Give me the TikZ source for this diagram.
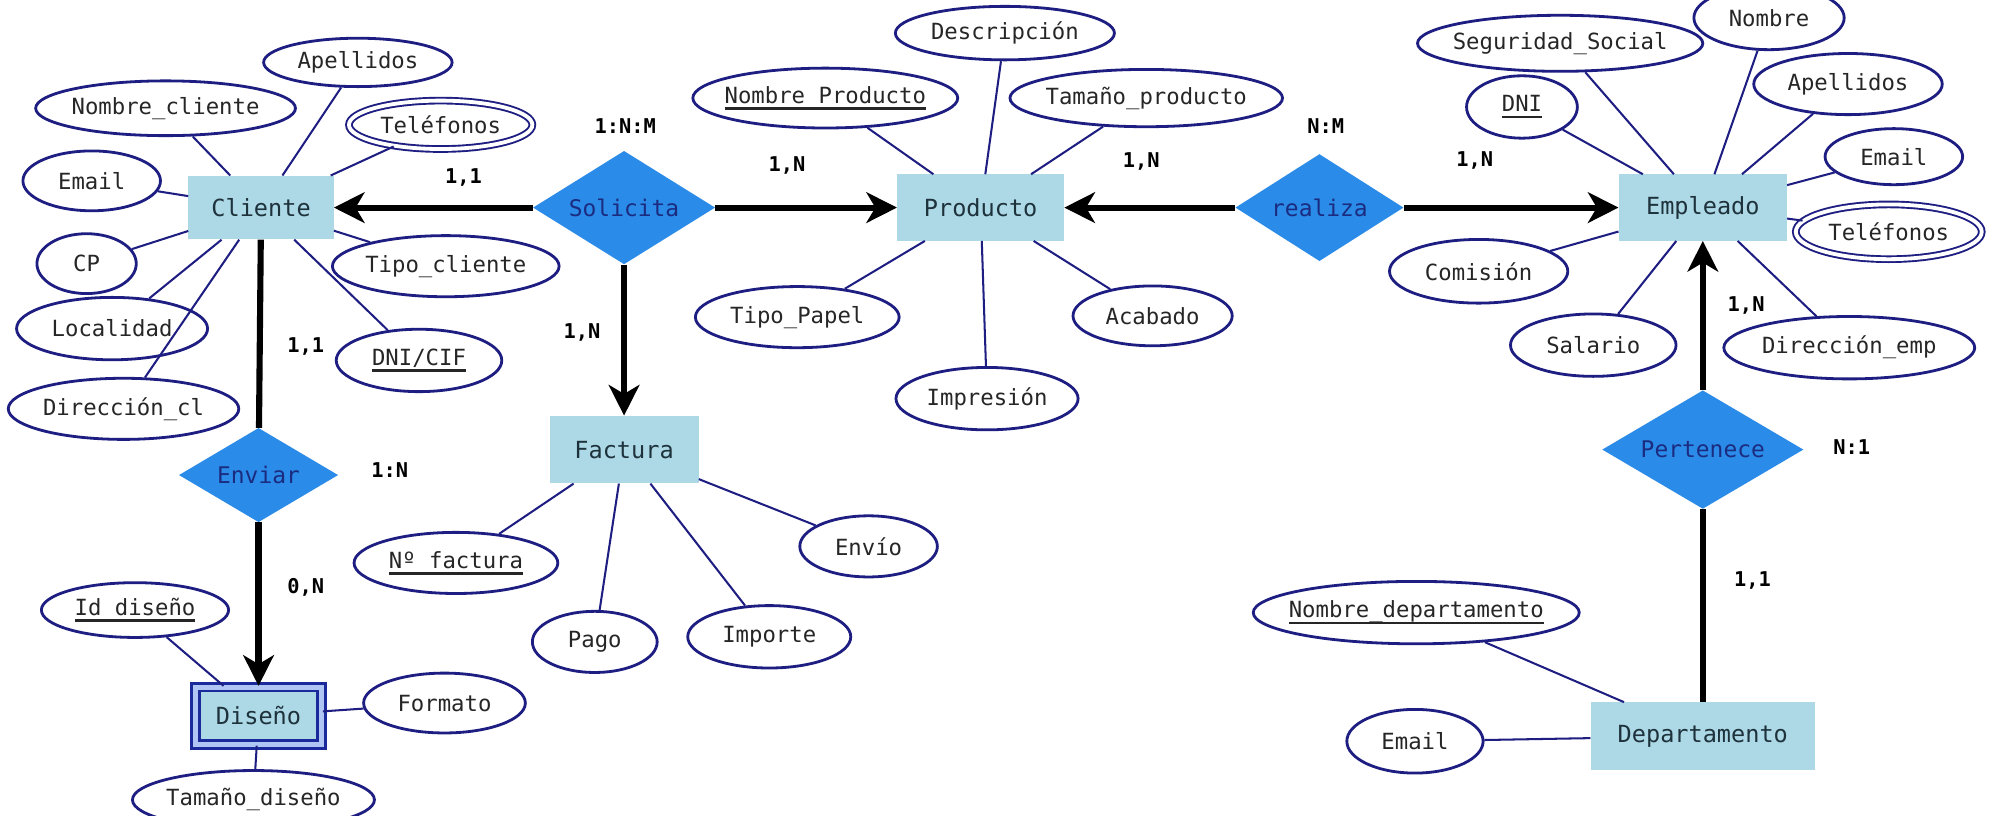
\documentclass[tikz,border=0pt]{standalone}
\usepackage{fontspec}
\setmonofont{DejaVu Sans Mono}
\usetikzlibrary{shapes.geometric,arrows.meta}

\definecolor{entfill}{RGB}{173,216,230}
\definecolor{enttext}{RGB}{30,50,60}
\definecolor{relfill}{RGB}{42,139,232}
\definecolor{reltext}{RGB}{27,44,128}
\definecolor{attrline}{RGB}{30,30,130}
\definecolor{weakfill}{RGB}{175,198,245}
\definecolor{weakline}{RGB}{26,42,154}

% underlined key attribute
\newcommand{\pk}[1]{\setbox0\hbox{#1}\rlap{\rule[-5pt]{\wd0}{2pt}}\box0}

\tikzset{
  entity/.style={rectangle, fill=entfill, text=enttext, inner sep=0pt,
    minimum height=52pt, font=\ttfamily\fontsize{18.5}{20}\selectfont},
  attr/.style={ellipse, draw=attrline, line width=2.2pt, fill=white, text=black!85,
    inner xsep=-30pt, inner ysep=0pt, minimum height=47pt,
    font=\ttfamily\fontsize{17.5}{19}\selectfont},
  multi/.style={attr, double=white, double distance=3pt, line width=1.5pt},
  rel/.style={diamond, aspect=1.6, fill=relfill, text=reltext, inner sep=0pt,
    font=\ttfamily\fontsize{18}{20}\selectfont},
  link/.style={draw=attrline, line width=1.6pt},
  conn/.style={black, line width=4.8pt},
  arr/.style={conn, -{Stealth[length=24pt,width=24pt,inset=7pt]}},
  card/.style={font=\ttfamily\bfseries\fontsize{16}{18}\selectfont}
}

\begin{document}
\begin{tikzpicture}[x=1pt,y=-1pt]
\useasboundingbox (0,0) rectangle (1568,640);
\fill[white] (0,0) rectangle (1568,640);

% Cliente
\node[entity, minimum width=114pt, minimum height=50pt] (cliente) at (205,163) {Cliente};
\node[attr, minimum width=148pt, minimum height=38pt] (cApellidos) at (281,49) {Apellidos};
\node[attr, minimum width=204pt, minimum height=43pt] (cNombre) at (130,85) {Nombre\_cliente};
\node[multi, minimum width=144pt, minimum height=38pt] (cTelefonos) at (346,98) {Teléfonos};
\node[attr, minimum width=108pt] (cEmail) at (72,142) {Email};
\node[attr, minimum width=78pt] (cCP) at (68,207) {CP};
\node[attr, minimum width=178pt, minimum height=48pt] (cTipo) at (350,209) {Tipo\_cliente};
\node[attr, minimum width=150pt, minimum height=49pt] (cLocalidad) at (88,258) {Localidad};
\node[attr, minimum width=130pt, minimum height=49pt] (cDNI) at (329,283) {\pk{DNI/CIF}};
\node[attr, minimum width=181pt, minimum height=48pt] (cDireccion) at (97,321) {Dirección\_cl};

\node[rel, minimum width=143pt, minimum height=89pt] (solicita) at (490,163) {Solicita};

% Producto
\node[entity, minimum width=131pt] (producto) at (770,163) {Producto};
\node[attr, minimum width=208pt] (pNombre) at (648,77) {\pk{Nombre\_Producto}};
\node[attr, minimum width=172pt, minimum height=42pt] (pDescripcion) at (789,26) {Descripción};
\node[attr, minimum width=214pt, minimum height=45pt] (pTamano) at (900,77) {Tamaño\_producto};
\node[attr, minimum width=160pt, minimum height=48pt] (pTipo) at (626,249) {Tipo\_Papel};
\node[attr, minimum width=143pt, minimum height=49pt] (pImpresion) at (775,313) {Impresión};
\node[attr, minimum width=125pt] (pAcabado) at (905,248) {Acabado};

\node[rel, minimum width=132pt, minimum height=84pt] (realiza) at (1036,163) {realiza};

% Empleado
\node[entity, minimum width=132pt] (empleado) at (1337,163) {Empleado};
\node[attr, minimum width=224pt, minimum height=44pt] (eSeguridad) at (1225,34) {Seguridad\_Social};
\node[attr, minimum width=118pt, minimum height=50pt] (eNombre) at (1389,14) {Nombre};
\node[attr, minimum width=148pt, minimum height=48pt] (eApellidos) at (1451,66) {Apellidos};
\node[attr, minimum width=87pt, minimum height=49pt] (eDNI) at (1195,84) {\pk{DNI}};
\node[attr, minimum width=108pt, minimum height=44pt] (eEmail) at (1487,123) {Email};
\node[multi, minimum width=146pt, minimum height=43pt] (eTelefonos) at (1483,182) {Teléfonos};
\node[attr, minimum width=140pt, minimum height=50pt] (eComision) at (1161,213) {Comisión};
\node[attr, minimum width=130pt, minimum height=49pt] (eSalario) at (1251,271) {Salario};
\node[attr, minimum width=197pt, minimum height=49pt] (eDireccion) at (1452,273) {Dirección\_emp};

\node[rel, minimum width=158pt, minimum height=93pt] (pertenece) at (1337,353) {Pertenece};

% Departamento
\node[entity, minimum width=176pt, minimum height=53pt] (departamento) at (1337,578) {Departamento};
\node[attr, minimum width=256pt, minimum height=49pt] (dNombre) at (1112,481) {\pk{Nombre\_departamento}};
\node[attr, minimum width=107pt, minimum height=50pt] (dEmail) at (1111,582) {Email};

% Factura
\node[entity, minimum width=117pt, minimum height=53pt] (factura) at (490,353) {Factura};
\node[attr, minimum width=160pt, minimum height=48pt] (fNumero) at (358,442) {\pk{Nº factura}};
\node[attr, minimum width=98pt, minimum height=48pt] (fPago) at (467,504) {Pago};
\node[attr, minimum width=128pt, minimum height=49pt] (fImporte) at (604,500) {Importe};
\node[attr, minimum width=108pt, minimum height=48pt] (fEnvio) at (682,429) {Envío};

\node[rel, minimum width=125pt, minimum height=74pt] (enviar) at (203,373) {Enviar};

% Diseño
\node[entity, draw=weakline, double=weakfill, double distance=4pt, line width=2pt,
  minimum width=99pt, minimum height=45pt] (diseno) at (203,562) {Diseño};
\node[attr, minimum width=147pt, minimum height=43pt] (sId) at (106,479) {\pk{Id\_diseño}};
\node[attr, minimum width=127pt] (sFormato) at (349,552) {Formato};
\node[attr, minimum width=190pt, minimum height=46pt] (sTamano) at (199,628) {Tamaño\_diseño};

\foreach \a in {cApellidos,cNombre,cTelefonos,cEmail,cCP,cTipo,cLocalidad,cDNI,cDireccion}
  \draw[link] (cliente) -- (\a);
\foreach \a in {pNombre,pDescripcion,pTamano,pTipo,pImpresion,pAcabado}
  \draw[link] (producto) -- (\a);
\foreach \a in {eSeguridad,eNombre,eApellidos,eDNI,eEmail,eTelefonos,eComision,eSalario,eDireccion}
  \draw[link] (empleado) -- (\a);
\foreach \a in {dNombre,dEmail}
  \draw[link] (departamento) -- (\a);
\foreach \a in {fNumero,fPago,fImporte,fEnvio}
  \draw[link] (factura) -- (\a);
\foreach \a in {sId,sFormato,sTamano}
  \draw[link] (diseno) -- (\a);

\draw[arr] (solicita) -- (cliente);
\draw[arr] (solicita) -- (producto);
\draw[arr] (solicita) -- (factura);
\draw[arr] (realiza) -- (producto);
\draw[arr] (realiza) -- (empleado);
\draw[conn] (cliente) -- (enviar);
\draw[arr] (enviar) -- (diseno);
\draw[arr] (pertenece) -- (empleado);
\draw[conn] (pertenece) -- (departamento);

\node[card] (kSolCli) at (364,139) {1,1};
\node[card] (kSol) at (491,99) {1:N:M};
\node[card] (kSolPro) at (618,130) {1,N};
\node[card] (kSolFac) at (457,261) {1,N};
\node[card] (kCliEnv) at (240,272) {1,1};
\node[card] (kEnv) at (306,369) {1:N};
\node[card] (kEnvDis) at (240,461) {0,N};
\node[card] (kRea) at (1041,99) {N:M};
\node[card] (kReaPro) at (896,127) {1,N};
\node[card] (kReaEmp) at (1158,126) {1,N};
\node[card] (kPerEmp) at (1371,240) {1,N};
\node[card] (kPer) at (1454,351) {N:1};
\node[card] (kPerDep) at (1376,456) {1,1};

\end{tikzpicture}
\end{document}
